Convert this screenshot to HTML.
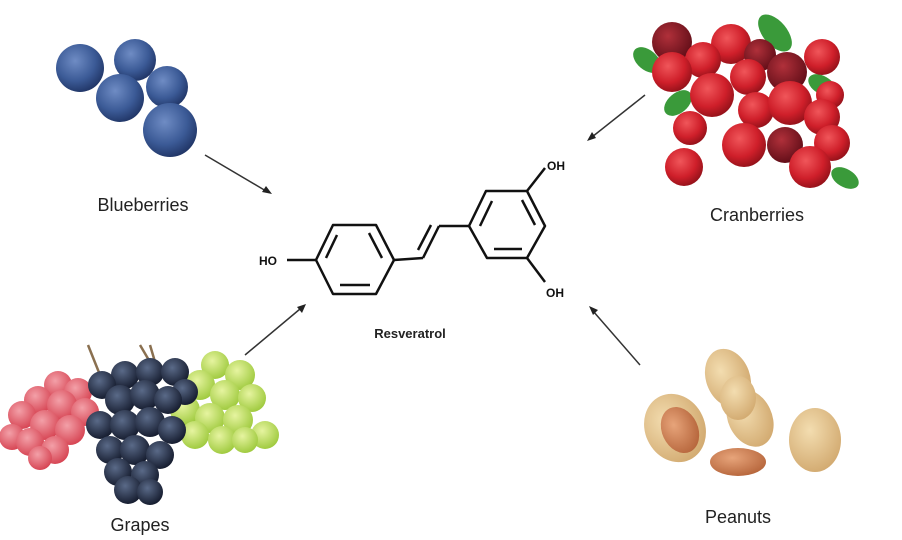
<!DOCTYPE html>
<html><head><meta charset="utf-8"><style>
html,body{margin:0;padding:0;background:#fff;}
svg{display:block;}
text{font-family:"Liberation Sans",sans-serif;}
</style></head><body>
<svg width="902" height="540" viewBox="0 0 902 540" xmlns="http://www.w3.org/2000/svg">
<defs>
<radialGradient id="bb" cx="0.4" cy="0.35" r="0.7"><stop offset="0" stop-color="#6f8cc4"/><stop offset="0.6" stop-color="#3b5a96"/><stop offset="1" stop-color="#1e3262"/></radialGradient>
<radialGradient id="cr" cx="0.4" cy="0.35" r="0.7"><stop offset="0" stop-color="#f0565a"/><stop offset="0.6" stop-color="#cf1f2a"/><stop offset="1" stop-color="#8e1018"/></radialGradient>
<radialGradient id="crd" cx="0.4" cy="0.35" r="0.7"><stop offset="0" stop-color="#b0303a"/><stop offset="1" stop-color="#5e0c16"/></radialGradient>
<radialGradient id="rg" cx="0.4" cy="0.35" r="0.7"><stop offset="0" stop-color="#f3a0a8"/><stop offset="1" stop-color="#d5404f"/></radialGradient>
<radialGradient id="dg" cx="0.4" cy="0.35" r="0.7"><stop offset="0" stop-color="#5a6a88"/><stop offset="1" stop-color="#12182a"/></radialGradient>
<radialGradient id="gg" cx="0.4" cy="0.35" r="0.7"><stop offset="0" stop-color="#e6f4a0"/><stop offset="1" stop-color="#9cc83a"/></radialGradient>
<radialGradient id="pn" cx="0.4" cy="0.35" r="0.75"><stop offset="0" stop-color="#f3ddb0"/><stop offset="1" stop-color="#cfa56a"/></radialGradient>
<radialGradient id="kr" cx="0.4" cy="0.35" r="0.7"><stop offset="0" stop-color="#e7a47a"/><stop offset="1" stop-color="#b5643a"/></radialGradient>
</defs>

<!-- Blueberries -->
<g fill="url(#bb)">
<circle cx="80" cy="68" r="24"/><circle cx="135" cy="60" r="21"/><circle cx="167" cy="87" r="21"/><circle cx="120" cy="98" r="24"/><circle cx="170" cy="130" r="27"/>
</g>
<text x="143" y="211" font-size="18" text-anchor="middle" fill="#222">Blueberries</text>

<!-- Cranberries -->
<g fill="#3a9a3a">
<ellipse cx="775" cy="33" rx="12" ry="22" transform="rotate(-40 775 33)"/>
<ellipse cx="647" cy="60" rx="10" ry="16" transform="rotate(-50 647 60)"/>
<ellipse cx="678" cy="103" rx="10" ry="16" transform="rotate(50 678 103)"/>
<ellipse cx="822" cy="85" rx="9" ry="15" transform="rotate(-60 822 85)"/>
<ellipse cx="845" cy="178" rx="9" ry="15" transform="rotate(-60 845 178)"/>
</g>
<g>
<circle cx="672" cy="42" r="20" fill="url(#crd)"/><circle cx="731" cy="44" r="20" fill="url(#cr)"/><circle cx="760" cy="55" r="16" fill="url(#crd)"/>
<circle cx="822" cy="57" r="18" fill="url(#cr)"/><circle cx="703" cy="60" r="18" fill="url(#cr)"/><circle cx="672" cy="72" r="20" fill="url(#cr)"/>
<circle cx="787" cy="72" r="20" fill="url(#crd)"/><circle cx="748" cy="77" r="18" fill="url(#cr)"/><circle cx="830" cy="95" r="14" fill="url(#cr)"/>
<circle cx="712" cy="95" r="22" fill="url(#cr)"/><circle cx="756" cy="110" r="18" fill="url(#cr)"/><circle cx="790" cy="103" r="22" fill="url(#cr)"/>
<circle cx="822" cy="117" r="18" fill="url(#cr)"/><circle cx="690" cy="128" r="17" fill="url(#cr)"/><circle cx="785" cy="145" r="18" fill="url(#crd)"/>
<circle cx="744" cy="145" r="22" fill="url(#cr)"/><circle cx="832" cy="143" r="18" fill="url(#cr)"/><circle cx="684" cy="167" r="19" fill="url(#cr)"/>
<circle cx="810" cy="167" r="21" fill="url(#cr)"/>
</g>
<text x="757" y="221" font-size="18" text-anchor="middle" fill="#222">Cranberries</text>

<!-- Grapes -->
<g fill="url(#rg)">
<circle cx="58" cy="385" r="14"/><circle cx="78" cy="392" r="14"/><circle cx="38" cy="400" r="14"/><circle cx="62" cy="405" r="15"/><circle cx="85" cy="412" r="14"/>
<circle cx="22" cy="415" r="14"/><circle cx="45" cy="425" r="15"/><circle cx="70" cy="430" r="15"/><circle cx="12" cy="437" r="13"/><circle cx="30" cy="442" r="14"/>
<circle cx="55" cy="450" r="14"/><circle cx="40" cy="458" r="12"/>
</g>
<g fill="url(#gg)">
<circle cx="215" cy="365" r="14"/><circle cx="240" cy="375" r="15"/><circle cx="200" cy="385" r="15"/><circle cx="225" cy="395" r="15"/><circle cx="252" cy="398" r="14"/>
<circle cx="185" cy="410" r="15"/><circle cx="210" cy="418" r="15"/><circle cx="238" cy="420" r="15"/><circle cx="265" cy="435" r="14"/>
<circle cx="195" cy="435" r="14"/><circle cx="222" cy="440" r="14"/><circle cx="245" cy="440" r="13"/>
</g>
<path d="M140 345 L150 362 M150 345 L158 372 M88 345 L100 375" stroke="#8a7050" stroke-width="2.5" fill="none"/>
<g fill="url(#dg)">
<circle cx="125" cy="375" r="14"/><circle cx="150" cy="372" r="14"/><circle cx="175" cy="372" r="14"/><circle cx="185" cy="392" r="13"/>
<circle cx="102" cy="385" r="14"/><circle cx="120" cy="400" r="15"/><circle cx="145" cy="395" r="15"/><circle cx="168" cy="400" r="14"/>
<circle cx="100" cy="425" r="14"/><circle cx="125" cy="425" r="15"/><circle cx="150" cy="422" r="15"/><circle cx="172" cy="430" r="14"/>
<circle cx="110" cy="450" r="14"/><circle cx="135" cy="450" r="15"/><circle cx="160" cy="455" r="14"/>
<circle cx="118" cy="472" r="14"/><circle cx="145" cy="475" r="14"/><circle cx="128" cy="490" r="14"/><circle cx="150" cy="492" r="13"/>
</g>
<text x="140" y="531" font-size="18" text-anchor="middle" fill="#222">Grapes</text>

<!-- Peanuts -->
<ellipse cx="675" cy="428" rx="30" ry="35" fill="url(#pn)" transform="rotate(-25 675 428)"/>
<ellipse cx="680" cy="430" rx="18" ry="24" fill="url(#kr)" transform="rotate(-25 680 430)"/>
<g fill="url(#pn)">
<ellipse cx="728" cy="378" rx="22" ry="30" transform="rotate(-20 728 378)"/>
<ellipse cx="750" cy="418" rx="22" ry="30" transform="rotate(-25 750 418)"/>
<ellipse cx="738" cy="398" rx="18" ry="22"/>
</g>
<ellipse cx="738" cy="462" rx="28" ry="14" fill="url(#kr)"/>
<ellipse cx="815" cy="440" rx="26" ry="32" fill="url(#pn)"/>
<text x="738" y="523" font-size="18" text-anchor="middle" fill="#222">Peanuts</text>

<!-- Arrows -->
<g stroke="#333" stroke-width="1.5" fill="#222">
<line x1="205" y1="155" x2="266" y2="191"/><polygon points="272,194 262,192 266,186" stroke="none"/>
<line x1="645" y1="95" x2="592" y2="137"/><polygon points="587,141 592,132 596,138" stroke="none"/>
<line x1="245" y1="355" x2="300" y2="309"/><polygon points="306,304 302,313 297,307" stroke="none"/>
<line x1="640" y1="365" x2="593" y2="311"/><polygon points="589,306 598,310 593,315" stroke="none"/>
</g>

<!-- Resveratrol -->
<g stroke="#111" stroke-width="2.5" fill="none" stroke-linejoin="round">
<polygon points="316,260 333,225 376,225 394,260 376,294 333,294"/>
<line x1="337" y1="235" x2="326" y2="258"/><line x1="369" y1="233" x2="382" y2="258"/><line x1="340" y1="285" x2="370" y2="285"/>
<line x1="287" y1="260" x2="316" y2="260"/>
<line x1="394" y1="260" x2="423" y2="258"/><line x1="423" y1="258" x2="439" y2="226"/><line x1="418" y1="250" x2="431" y2="225"/><line x1="439" y1="226" x2="469" y2="226"/>
<polygon points="469,226 486,191 527,191 545,226 527,258 487,258"/>
<line x1="480" y1="226" x2="492" y2="201"/><line x1="522" y1="200" x2="535" y2="225"/><line x1="494" y1="249" x2="522" y2="249"/>
<line x1="527" y1="191" x2="545" y2="168"/><line x1="527" y1="258" x2="545" y2="282"/>
</g>
<g font-size="12" fill="#111" font-weight="bold">
<text x="259" y="265">HO</text>
<text x="547" y="170">OH</text>
<text x="546" y="297">OH</text>
</g>
<text x="410" y="338" font-size="13" font-weight="bold" text-anchor="middle" fill="#222">Resveratrol</text>
</svg>
</body></html>
